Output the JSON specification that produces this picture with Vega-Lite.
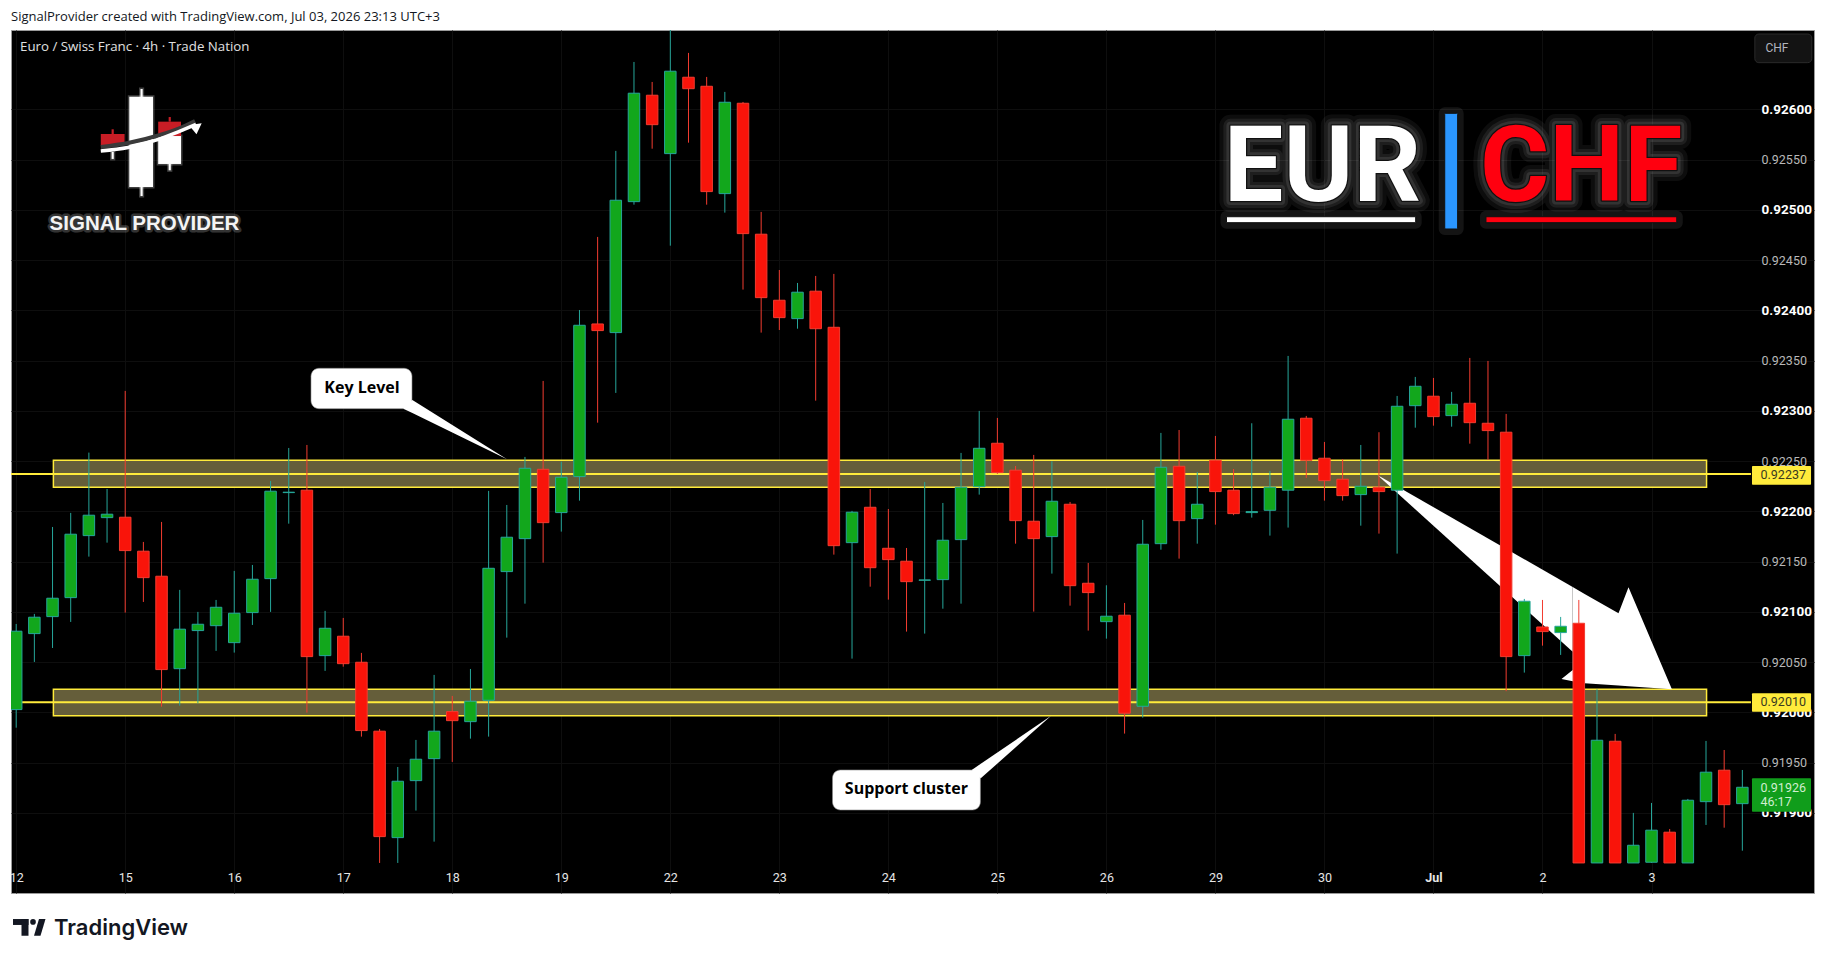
{
  "$schema": "https://vega.github.io/schema/vega-lite/v6.json",
  "width": 1803,
  "height": 863,
  "padding": {"left": 11, "top": 30, "right": 11, "bottom": 67},
  "autosize": {"type": "none"},
  "background": "#ffffff",
  "view": {"fill": "#000000", "stroke": "#9a9a9a"},
  "config": {"text": {"font": "Roboto"}},
  "datasets": {
    "candles": [
      {"i":0,"open":0.920027,"high":0.920879,"low":0.919847,"close":0.920807},
      {"i":1,"open":0.920783,"high":0.920979,"low":0.920501,"close":0.920946},
      {"i":2,"open":0.920952,"high":0.921844,"low":0.92064,"close":0.921135},
      {"i":3,"open":0.921141,"high":0.921984,"low":0.920899,"close":0.921772},
      {"i":4,"open":0.921758,"high":0.922584,"low":0.921549,"close":0.921961},
      {"i":5,"open":0.921937,"high":0.922222,"low":0.921688,"close":0.921971},
      {"i":6,"open":0.921941,"high":0.923198,"low":0.920992,"close":0.921609},
      {"i":7,"open":0.921603,"high":0.921695,"low":0.921098,"close":0.92134},
      {"i":8,"open":0.921354,"high":0.921894,"low":0.920056,"close":0.920425},
      {"i":9,"open":0.920434,"high":0.921218,"low":0.920066,"close":0.920827},
      {"i":10,"open":0.920813,"high":0.920999,"low":0.92009,"close":0.920876},
      {"i":11,"open":0.920862,"high":0.921118,"low":0.920611,"close":0.921045},
      {"i":12,"open":0.920693,"high":0.921407,"low":0.920594,"close":0.920986},
      {"i":13,"open":0.920992,"high":0.921466,"low":0.920869,"close":0.921324},
      {"i":14,"open":0.92133,"high":0.922302,"low":0.920999,"close":0.9222},
      {"i":15,"open":0.922186,"high":0.92263,"low":0.921877,"close":0.92219},
      {"i":16,"open":0.92221,"high":0.92266,"low":0.919997,"close":0.920554},
      {"i":17,"open":0.920564,"high":0.921009,"low":0.920412,"close":0.920836},
      {"i":18,"open":0.920757,"high":0.920939,"low":0.920454,"close":0.920484},
      {"i":19,"open":0.920498,"high":0.920591,"low":0.919758,"close":0.919818},
      {"i":20,"open":0.919812,"high":0.919834,"low":0.918501,"close":0.918763},
      {"i":21,"open":0.918753,"high":0.919456,"low":0.918501,"close":0.919314},
      {"i":22,"open":0.91932,"high":0.919725,"low":0.919022,"close":0.919533},
      {"i":23,"open":0.919539,"high":0.920372,"low":0.918713,"close":0.919812},
      {"i":24,"open":0.920007,"high":0.920163,"low":0.919506,"close":0.919917},
      {"i":25,"open":0.919907,"high":0.920431,"low":0.919738,"close":0.92011},
      {"i":26,"open":0.92012,"high":0.922203,"low":0.919758,"close":0.921433},
      {"i":27,"open":0.9214,"high":0.922063,"low":0.920743,"close":0.921742},
      {"i":28,"open":0.921728,"high":0.922541,"low":0.921081,"close":0.922428},
      {"i":29,"open":0.922418,"high":0.923297,"low":0.921489,"close":0.921887},
      {"i":30,"open":0.921987,"high":0.922494,"low":0.921798,"close":0.922339},
      {"i":31,"open":0.922345,"high":0.924003,"low":0.922106,"close":0.923851},
      {"i":32,"open":0.923864,"high":0.92473,"low":0.922882,"close":0.923798},
      {"i":33,"open":0.923778,"high":0.925586,"low":0.923178,"close":0.925095},
      {"i":34,"open":0.925081,"high":0.926471,"low":0.925051,"close":0.92616},
      {"i":35,"open":0.92614,"high":0.926272,"low":0.925608,"close":0.925847},
      {"i":36,"open":0.925559,"high":0.926789,"low":0.924643,"close":0.926379},
      {"i":37,"open":0.926319,"high":0.926561,"low":0.925668,"close":0.926205},
      {"i":38,"open":0.926229,"high":0.926322,"low":0.925051,"close":0.925181},
      {"i":39,"open":0.925161,"high":0.926173,"low":0.924972,"close":0.92607},
      {"i":40,"open":0.92606,"high":0.926073,"low":0.924206,"close":0.924763},
      {"i":41,"open":0.924757,"high":0.924979,"low":0.923778,"close":0.924126},
      {"i":42,"open":0.9241,"high":0.924401,"low":0.923804,"close":0.923927},
      {"i":43,"open":0.923917,"high":0.924272,"low":0.923817,"close":0.92418},
      {"i":44,"open":0.92419,"high":0.924342,"low":0.923101,"close":0.923817},
      {"i":45,"open":0.923831,"high":0.924362,"low":0.921569,"close":0.921658},
      {"i":46,"open":0.921688,"high":0.922004,"low":0.920534,"close":0.921991},
      {"i":47,"open":0.92204,"high":0.922222,"low":0.92125,"close":0.921439},
      {"i":48,"open":0.921632,"high":0.922023,"low":0.921121,"close":0.921519},
      {"i":49,"open":0.921503,"high":0.921635,"low":0.920803,"close":0.9213},
      {"i":50,"open":0.921314,"high":0.922292,"low":0.920783,"close":0.921317},
      {"i":51,"open":0.92132,"high":0.922083,"low":0.921031,"close":0.921712},
      {"i":52,"open":0.921718,"high":0.922581,"low":0.921081,"close":0.922239},
      {"i":53,"open":0.922245,"high":0.922999,"low":0.922166,"close":0.922627},
      {"i":54,"open":0.922677,"high":0.922929,"low":0.922372,"close":0.922385},
      {"i":55,"open":0.922409,"high":0.922451,"low":0.921678,"close":0.921907},
      {"i":56,"open":0.921901,"high":0.922561,"low":0.921002,"close":0.921728},
      {"i":57,"open":0.921748,"high":0.922498,"low":0.92138,"close":0.9221},
      {"i":58,"open":0.92207,"high":0.922093,"low":0.921061,"close":0.92126},
      {"i":59,"open":0.921284,"high":0.921486,"low":0.920813,"close":0.921191},
      {"i":60,"open":0.920902,"high":0.921264,"low":0.920733,"close":0.920956},
      {"i":61,"open":0.920966,"high":0.921088,"low":0.919788,"close":0.919991},
      {"i":62,"open":0.92006,"high":0.921914,"low":0.919947,"close":0.921672},
      {"i":63,"open":0.921678,"high":0.92278,"low":0.921618,"close":0.922438},
      {"i":64,"open":0.922448,"high":0.922809,"low":0.921529,"close":0.921907},
      {"i":65,"open":0.921927,"high":0.922392,"low":0.921678,"close":0.92207},
      {"i":66,"open":0.922508,"high":0.92275,"low":0.921867,"close":0.922196},
      {"i":67,"open":0.92221,"high":0.922421,"low":0.921961,"close":0.921977},
      {"i":68,"open":0.921987,"high":0.922876,"low":0.921937,"close":0.921997},
      {"i":69,"open":0.92201,"high":0.922402,"low":0.921758,"close":0.922239},
      {"i":70,"open":0.92221,"high":0.923546,"low":0.921838,"close":0.922916},
      {"i":71,"open":0.922926,"high":0.922949,"low":0.922332,"close":0.922508},
      {"i":72,"open":0.922528,"high":0.92269,"low":0.922106,"close":0.922305},
      {"i":73,"open":0.922319,"high":0.922518,"low":0.922106,"close":0.922156},
      {"i":74,"open":0.922166,"high":0.92266,"low":0.921857,"close":0.922249},
      {"i":75,"open":0.922239,"high":0.922787,"low":0.921778,"close":0.922196},
      {"i":76,"open":0.92221,"high":0.923148,"low":0.921579,"close":0.923045},
      {"i":77,"open":0.923051,"high":0.923337,"low":0.922832,"close":0.923244},
      {"i":78,"open":0.923145,"high":0.923327,"low":0.922852,"close":0.922942},
      {"i":79,"open":0.922952,"high":0.923188,"low":0.922842,"close":0.923065},
      {"i":80,"open":0.923075,"high":0.923526,"low":0.922673,"close":0.922882},
      {"i":81,"open":0.922876,"high":0.923496,"low":0.922511,"close":0.922803},
      {"i":82,"open":0.922787,"high":0.922969,"low":0.92021,"close":0.920554},
      {"i":83,"open":0.920564,"high":0.921128,"low":0.920395,"close":0.921105},
      {"i":84,"open":0.920849,"high":0.921118,"low":0.920663,"close":0.920803},
      {"i":85,"open":0.920793,"high":0.920949,"low":0.920571,"close":0.920856},
      {"i":86,"open":0.920886,"high":0.921118,"low":0.918501,"close":0.918501},
      {"i":87,"open":0.918501,"high":0.920229,"low":0.918501,"close":0.919722},
      {"i":88,"open":0.919712,"high":0.919785,"low":0.918501,"close":0.918501},
      {"i":89,"open":0.918501,"high":0.918999,"low":0.918501,"close":0.918677},
      {"i":90,"open":0.918508,"high":0.919098,"low":0.918501,"close":0.918827},
      {"i":91,"open":0.918807,"high":0.918839,"low":0.918501,"close":0.918501},
      {"i":92,"open":0.918501,"high":0.919138,"low":0.918501,"close":0.919125},
      {"i":93,"open":0.919111,"high":0.919715,"low":0.918879,"close":0.919404},
      {"i":94,"open":0.919424,"high":0.919625,"low":0.918852,"close":0.919081},
      {"i":95,"open":0.919091,"high":0.919426,"low":0.918623,"close":0.919254}
    ],
    "shapes": [
      {"part":"key","i":21.304,"p":0.923021,"p2":0.923021},
      {"part":"key","i":21.805,"p":0.923108,"p2":0.922977},
      {"part":"key","i":27.012,"p":0.922517,"p2":0.922517},
      {"part":"support","i":52.586,"p":0.919426,"p2":0.919426},
      {"part":"support","i":53.087,"p":0.919488,"p2":0.919343},
      {"part":"support","i":56.94,"p":0.919963,"p2":0.919963},
      {"part":"shaft","i":74.914,"p":0.922361,"p2":0.922361},
      {"part":"shaft","i":85.663,"p":0.921247,"p2":0.920603},
      {"part":"head","i":85.047,"p":0.920331,"p2":0.920331},
      {"part":"head","i":85.663,"p":0.920421,"p2":0.92031},
      {"part":"head","i":85.664,"p":0.921247,"p2":0.92031},
      {"part":"head","i":86.319,"p":0.921178,"p2":0.920289},
      {"part":"head","i":88.184,"p":0.920985,"p2":0.920266},
      {"part":"head","i":88.734,"p":0.921244,"p2":0.920259},
      {"part":"head","i":91.123,"p":0.920229,"p2":0.920229},
      {"part":"logo","i":9.51,"p":0.925841,"p2":0.925841},
      {"part":"logo","i":9.923,"p":0.925853,"p2":0.925751},
      {"part":"logo","i":10.209,"p":0.925861,"p2":0.925861}
    ],
    "pair": [
      {"i":71.895,"p":0.925088,"label":"EUR"},
      {"i":86.13,"p":0.925088,"label":"CHF"}
    ]
  },
  "encoding": {
    "x": {
      "field": "i",
      "type": "quantitative",
      "scale": {"domain": [-0.286, 98.943], "nice": false, "zero": false, "padding": 0},
      "axis": {
        "orient": "bottom",
        "title": null,
        "offset": -30,
        "values": [0,6,12,18,24,30,36,42,48,54,60,66,72,78,84,90],
        "labelExpr": "['12','15','16','17','18','19','22','23','24','25','26','29','30','Jul','2','3'][datum.value/6]",
        "labelColor": "#e6e6e6",
        "labelFont": "Roboto",
        "labelFontSize": 12.5,
        "labelFontWeight": {"condition": {"test": "datum.value == 78", "value": "bold"}, "value": "normal"},
        "labelPadding": 8,
        "labelBound": false,
        "labelFlush": false,
        "labelOverlap": false,
        "ticks": false,
        "domain": false,
        "grid": true,
        "gridColor": "#0e0e0e"
      }
    },
    "y": {
      "field": "p",
      "type": "quantitative",
      "scale": {"domain": [0.918202, 0.926789], "nice": false, "zero": false},
      "axis": {
        "orient": "right",
        "title": null,
        "offset": -63,
        "values": [0.919,0.9195,0.92,0.9205,0.921,0.9215,0.922,0.9225,0.923,0.9235,0.924,0.9245,0.925,0.9255,0.926],
        "format": ".5f",
        "labelColor": {"condition": {"test": "round(datum.value*10000) % 10 == 0", "value": "#ffffff"}, "value": "#b8b8b8"},
        "labelFont": "Roboto",
        "labelFontSize": {"condition": {"test": "round(datum.value*10000) % 10 == 0", "value": 13.5}, "value": 12.5},
        "labelFontWeight": {"condition": {"test": "round(datum.value*10000) % 10 == 0", "value": "bold"}, "value": "normal"},
        "labelPadding": 10,
        "labelBound": false,
        "labelFlush": false,
        "labelOverlap": false,
        "ticks": false,
        "domain": false,
        "grid": true,
        "gridColor": "#0e0e0e"
      }
    }
  },
  "layer": [
    {
      "data": {"values": [
        {"i":2.047,"i2":93.03,"p":0.922508,"p2":0.922239},
        {"i":2.047,"i2":93.03,"p":0.920229,"p2":0.919966}
      ]},
      "mark": {"type": "rect", "fill": "#655e3a", "stroke": "#ffeb3b", "strokeWidth": 1.5},
      "encoding": {"x2": {"field": "i2"}, "y2": {"field": "p2"}}
    },
    {
      "data": {"values": [
        {"i":-0.286,"i2":95.475,"p":0.92237},
        {"i":-0.286,"i2":95.475,"p":0.9201}
      ]},
      "mark": {"type": "rule", "color": "#ffeb3b", "strokeWidth": 2},
      "encoding": {"x2": {"field": "i2"}}
    },
    {
      "data": {"values": [
        {"i":16.224,"i2":21.783,"p":0.923423,"p2":0.923021},
        {"i":44.926,"i2":53.065,"p":0.919426,"p2":0.919028}
      ]},
      "mark": {"type": "rect", "fill": "#ffffff", "stroke": "#8a8a8a", "strokeWidth": 0.6, "cornerRadius": 8},
      "encoding": {"x2": {"field": "i2"}, "y2": {"field": "p2"}}
    },
    {
      "data": {"name": "shapes"},
      "mark": {"type": "area", "color": "#ffffff", "orient": "vertical"},
      "encoding": {"y2": {"field": "p2"}, "detail": {"field": "part"}}
    },
    {
      "data": {"values": [
        {"i":19.031,"p":0.92323,"label":"Key Level"},
        {"i":48.993,"p":0.919237,"label":"Support cluster"}
      ]},
      "mark": {"type": "text", "font": "Open Sans", "fontWeight": "bold", "fontSize": 16, "color": "#000000", "baseline": "middle"},
      "encoding": {"text": {"field": "label"}}
    },
    {
      "data": {"name": "candles"},
      "mark": {"type": "rule", "strokeWidth": 1, "clip": true},
      "encoding": {
        "y": {
          "field": "high",
          "type": "quantitative",
          "scale": {"domain": [0.918202, 0.926789], "nice": false, "zero": false},
          "axis": {
            "orient": "right",
            "title": null,
            "offset": -63,
            "values": [0.919,0.9195,0.92,0.9205,0.921,0.9215,0.922,0.9225,0.923,0.9235,0.924,0.9245,0.925,0.9255,0.926],
            "format": ".5f",
            "labelColor": {"condition": {"test": "round(datum.value*10000) % 10 == 0", "value": "#ffffff"}, "value": "#b8b8b8"},
            "labelFont": "Roboto",
            "labelFontSize": {"condition": {"test": "round(datum.value*10000) % 10 == 0", "value": 13.5}, "value": 12.5},
            "labelFontWeight": {"condition": {"test": "round(datum.value*10000) % 10 == 0", "value": "bold"}, "value": "normal"},
            "labelPadding": 10,
            "labelBound": false,
            "labelFlush": false,
            "labelOverlap": false,
            "ticks": false,
            "domain": false,
            "grid": true,
            "gridColor": "#0e0e0e"
          }
        },
        "y2": {"field": "low"},
        "color": {"condition": {"test": "datum.close >= datum.open", "value": "#26a69a"}, "value": "#f23c30"}
      }
    },
    {
      "data": {"name": "candles"},
      "mark": {"type": "bar", "size": 11.5, "strokeWidth": 1, "orient": "vertical", "clip": true},
      "encoding": {
        "y": {
          "field": "open",
          "type": "quantitative",
          "scale": {"domain": [0.918202, 0.926789], "nice": false, "zero": false},
          "axis": {
            "orient": "right",
            "title": null,
            "offset": -63,
            "values": [0.919,0.9195,0.92,0.9205,0.921,0.9215,0.922,0.9225,0.923,0.9235,0.924,0.9245,0.925,0.9255,0.926],
            "format": ".5f",
            "labelColor": {"condition": {"test": "round(datum.value*10000) % 10 == 0", "value": "#ffffff"}, "value": "#b8b8b8"},
            "labelFont": "Roboto",
            "labelFontSize": {"condition": {"test": "round(datum.value*10000) % 10 == 0", "value": 13.5}, "value": 12.5},
            "labelFontWeight": {"condition": {"test": "round(datum.value*10000) % 10 == 0", "value": "bold"}, "value": "normal"},
            "labelPadding": 10,
            "labelBound": false,
            "labelFlush": false,
            "labelOverlap": false,
            "ticks": false,
            "domain": false,
            "grid": true,
            "gridColor": "#0e0e0e"
          }
        },
        "y2": {"field": "close"},
        "fill": {"condition": {"test": "datum.close >= datum.open", "value": "#12a71c"}, "value": "#f9140a"},
        "stroke": {"condition": {"test": "datum.close >= datum.open", "value": "#26a69a"}, "value": "#f23c30"}
      }
    },
    {
      "data": {"values": [
        {"i":95.53,"i2":98.78,"p":0.922451,"p2":0.922265},
        {"i":95.53,"i2":98.78,"p":0.920189,"p2":0.920006}
      ]},
      "mark": {"type": "rect", "fill": "#ffeb3b", "cornerRadius": 1},
      "encoding": {"x2": {"field": "i2"}, "y2": {"field": "p2"}}
    },
    {
      "data": {"values": [{"i":95.53,"i2":98.78,"p":0.919343,"p2":0.919011}]},
      "mark": {"type": "rect", "fill": "#109d1b", "cornerRadius": 1},
      "encoding": {"x2": {"field": "i2"}, "y2": {"field": "p2"}}
    },
    {
      "data": {"values": [
        {"i":96.0,"p":0.922361,"label":"0.92237"},
        {"i":96.0,"p":0.9201,"label":"0.92010"}
      ]},
      "mark": {"type": "text", "fontSize": 12.5, "color": "#3a3a20", "align": "left", "baseline": "middle"},
      "encoding": {"text": {"field": "label"}}
    },
    {
      "data": {"values": [
        {"i":96.0,"p":0.91925,"label":"0.91926"},
        {"i":96.0,"p":0.919105,"label":"46:17"}
      ]},
      "mark": {"type": "text", "fontSize": 12.5, "color": "#cfeecf", "align": "left", "baseline": "middle"},
      "encoding": {"text": {"field": "label"}}
    },
    {
      "data": {"values": [{"i":95.686,"i2":98.822,"p":0.926749,"p2":0.926464}]},
      "mark": {"type": "rect", "fill": "#131313", "stroke": "#2a2a2a", "cornerRadius": 4},
      "encoding": {"x2": {"field": "i2"}, "y2": {"field": "p2"}}
    },
    {
      "data": {"values": [{"i":96.9,"p":0.926605,"label":"CHF"}]},
      "mark": {"type": "text", "fontSize": 12, "color": "#b2b5be", "baseline": "middle"},
      "encoding": {"text": {"field": "label"}}
    },
    {
      "data": {"values": [{"i":0.209,"p":0.926623,"label":"Euro / Swiss Franc · 4h · Trade Nation"}]},
      "mark": {"type": "text", "font": "Open Sans", "fontSize": 13.3, "color": "#e0e0e0", "align": "left", "baseline": "middle"},
      "encoding": {"text": {"field": "label"}}
    },
    {
      "data": {"values": [{"i":-0.286,"p":0.926921,"label":"SignalProvider created with TradingView.com, Jul 03, 2026 23:13 UTC+3"}]},
      "mark": {"type": "text", "font": "Open Sans", "fontSize": 13, "color": "#131722", "align": "left", "baseline": "middle"},
      "encoding": {"text": {"field": "label"}}
    },
    {
      "data": {"values": [{"i":2.08,"p":0.917857,"label":"TradingView"}]},
      "mark": {"type": "text", "font": "Inter", "fontWeight": 600, "fontSize": 22, "color": "#131722", "align": "left", "baseline": "middle"},
      "encoding": {"text": {"field": "label"}}
    },
    {
      "data": {"values": [
        {"i":-0.176,"i2":0.677,"p":0.917943,"p2":0.917884},
        {"i":0.292,"i2":0.677,"p":0.917943,"p2":0.917777}
      ]},
      "mark": {"type": "rect", "fill": "#131722"},
      "encoding": {"x2": {"field": "i2"}, "y2": {"field": "p2"}}
    },
    {
      "data": {"values": [{"i":0.925,"p":0.917914}]},
      "mark": {"type": "point", "shape": "circle", "filled": true, "size": 32, "color": "#131722", "opacity": 1},
      "encoding": {}
    },
    {
      "data": {"values": [
        {"i":0.98,"p":0.917777,"p2":0.917777},
        {"i":1.255,"p":0.917943,"p2":0.917777},
        {"i":1.337,"p":0.917943,"p2":0.917777},
        {"i":1.613,"p":0.917943,"p2":0.917943}
      ]},
      "mark": {"type": "area", "color": "#131722", "orient": "vertical"},
      "encoding": {"y2": {"field": "p2"}}
    },
    {
      "data": {"name": "pair"},
      "mark": {"type": "text", "font": "Roboto", "fontWeight": "bold", "fontSize": 106, "baseline": "alphabetic", "stroke": "#ffffff", "strokeWidth": 22, "opacity": 0.05, "strokeJoin": "round", "color": "#ffffff"},
      "encoding": {"text": {"field": "label"}}
    },
    {
      "data": {"name": "pair"},
      "mark": {"type": "text", "font": "Roboto", "fontWeight": "bold", "fontSize": 106, "baseline": "alphabetic", "stroke": "#ffffff", "strokeWidth": 14, "opacity": 0.07, "strokeJoin": "round", "color": "#ffffff"},
      "encoding": {"text": {"field": "label"}}
    },
    {
      "data": {"name": "pair"},
      "mark": {"type": "text", "font": "Roboto", "fontWeight": "bold", "fontSize": 106, "baseline": "alphabetic", "stroke": "#ffffff", "strokeWidth": 8, "opacity": 0.09, "strokeJoin": "round", "color": "#ffffff"},
      "encoding": {"text": {"field": "label"}}
    },
    {
      "data": {"name": "pair"},
      "mark": {"type": "text", "font": "Roboto", "fontWeight": "bold", "fontSize": 106, "baseline": "alphabetic", "stroke": "#111111", "strokeWidth": 2.5, "strokeJoin": "round", "color": "#111111"},
      "encoding": {"text": {"field": "label"}}
    },
    {
      "data": {"name": "pair"},
      "mark": {"type": "text", "font": "Roboto", "fontWeight": "bold", "fontSize": 106, "baseline": "alphabetic"},
      "encoding": {
        "text": {"field": "label"},
        "color": {"condition": {"test": "datum.label == 'CHF'", "value": "#ff000f"}, "value": "#ffffff"}
      }
    },
    {
      "data": {"values": [
        {"i":66.61,"i2":77.02,"p":0.924931,"p2":0.924872},
        {"i":80.89,"i2":91.39,"p":0.924931,"p2":0.924872},
        {"i":78.62,"i2":79.33,"p":0.92596,"p2":0.924809}
      ]},
      "mark": {"type": "rect", "fill": "#ffffff", "opacity": 0.08, "stroke": "#ffffff", "strokeWidth": 12, "strokeJoin": "round"},
      "encoding": {"x2": {"field": "i2"}, "y2": {"field": "p2"}}
    },
    {
      "data": {"values": [{"i":66.61,"i2":77.02,"p":0.924931,"p2":0.924872}]},
      "mark": {"type": "rect", "fill": "#ffffff", "stroke": "#111111", "strokeWidth": 1},
      "encoding": {"x2": {"field": "i2"}, "y2": {"field": "p2"}}
    },
    {
      "data": {"values": [{"i":80.89,"i2":91.39,"p":0.924931,"p2":0.924872}]},
      "mark": {"type": "rect", "fill": "#ff000f", "stroke": "#111111", "strokeWidth": 1},
      "encoding": {"x2": {"field": "i2"}, "y2": {"field": "p2"}}
    },
    {
      "data": {"values": [{"i":78.62,"i2":79.33,"p":0.92596,"p2":0.924809}]},
      "mark": {"type": "rect", "fill": "#2a96ff", "stroke": "#111111", "strokeWidth": 1, "cornerRadius": 1},
      "encoding": {"x2": {"field": "i2"}, "y2": {"field": "p2"}}
    },
    {
      "data": {"values": [
        {"i":6.224,"i2":7.529,"p":0.926125,"p2":0.925227},
        {"i":6.84,"i2":6.96,"p":0.926202,"p2":0.925137},
        {"i":7.815,"i2":9.07,"p":0.925734,"p2":0.925456},
        {"i":8.39,"i2":8.51,"p":0.925456,"p2":0.925393},
        {"i":5.25,"i2":5.37,"p":0.925575,"p2":0.925506}
      ]},
      "mark": {"type": "rect", "fill": "#ffffff", "stroke": "#ffffff", "strokeOpacity": 0.25, "strokeWidth": 3},
      "encoding": {"x2": {"field": "i2"}, "y2": {"field": "p2"}}
    },
    {
      "data": {"values": [
        {"i":7.815,"i2":9.07,"p":0.925877,"p2":0.925734},
        {"i":8.39,"i2":8.51,"p":0.925923,"p2":0.925877},
        {"i":4.656,"i2":5.966,"p":0.925754,"p2":0.925642},
        {"i":5.25,"i2":5.37,"p":0.925801,"p2":0.925754}
      ]},
      "mark": {"type": "rect", "fill": "#c81d25"},
      "encoding": {"x2": {"field": "i2"}, "y2": {"field": "p2"}}
    },
    {
      "data": {"values": [
        {"i":4.656,"p":0.925625},
        {"i":6.153,"p":0.925665},
        {"i":7.914,"p":0.925744},
        {"i":9.015,"p":0.925814},
        {"i":9.84,"p":0.925884}
      ]},
      "mark": {"type": "line", "color": "#3a3a3a", "strokeWidth": 4, "interpolate": "monotone"},
      "encoding": {}
    },
    {
      "data": {"values": [
        {"i":4.656,"p":0.925585},
        {"i":6.153,"p":0.92562},
        {"i":7.914,"p":0.925705},
        {"i":9.015,"p":0.925784},
        {"i":9.895,"p":0.925849}
      ]},
      "mark": {"type": "line", "color": "#ffffff", "strokeWidth": 3.5, "interpolate": "monotone"},
      "encoding": {}
    },
    {
      "data": {"values": [{"i":7.061,"p":0.924799,"label":"SIGNAL PROVIDER"}]},
      "mark": {"type": "text", "font": "Liberation Sans", "fontWeight": "bold", "fontSize": 20.5, "baseline": "alphabetic", "color": "#ffffff", "stroke": "#ffffff", "strokeWidth": 5, "opacity": 0.2, "strokeJoin": "round"},
      "encoding": {"text": {"field": "label"}}
    },
    {
      "data": {"values": [{"i":7.061,"p":0.924799,"label":"SIGNAL PROVIDER"}]},
      "mark": {"type": "text", "font": "Liberation Sans", "fontWeight": "bold", "fontSize": 20.5, "baseline": "alphabetic", "color": "#f4f4f4"},
      "encoding": {"text": {"field": "label"}}
    }
  ]
}
